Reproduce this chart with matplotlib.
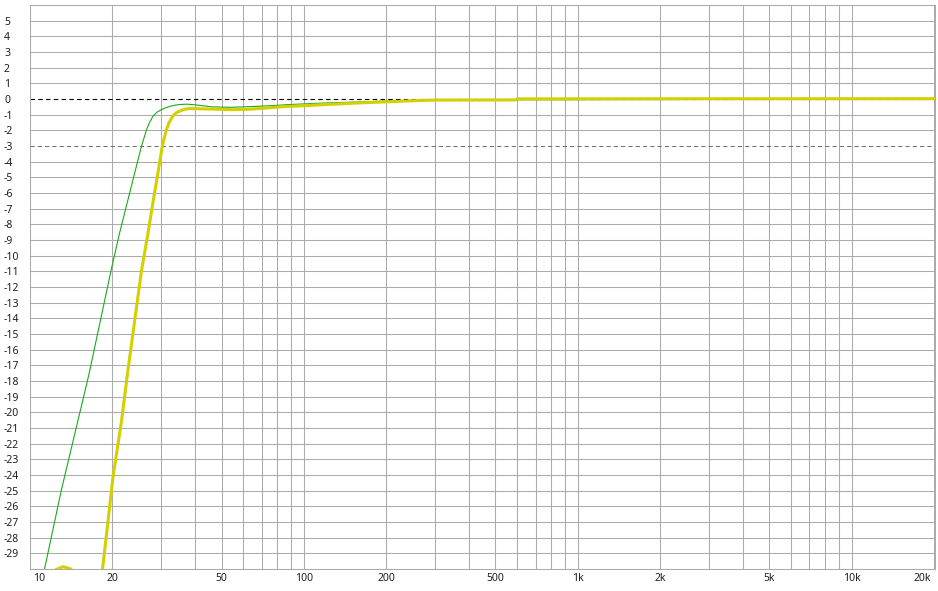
import matplotlib
matplotlib.use("Agg")
import matplotlib.pyplot as plt
import matplotlib.transforms as mtransforms

# green trace (thin)
green_freq = [10, 11.3, 13.0, 16.4, 19.7, 21.2, 22.8, 24.2, 25.5, 26.6, 27.3, 28.1, 29.1,
              30.2, 31.3, 32.4, 33.7, 35.2, 37.5, 40.5, 46, 53.6, 65, 77, 87, 107, 121,
              150, 200, 300, 20000]
green_db = [-34.2, -30, -25, -17.6, -11.06, -8.6, -6.4, -4.6, -3.04, -1.98, -1.5, -1.1, -0.84,
            -0.68, -0.56, -0.47, -0.40, -0.35, -0.33, -0.38, -0.5, -0.53, -0.48, -0.42, -0.36,
            -0.29, -0.25, -0.2, -0.13, -0.06, 0.0]

# yellow trace (thick)
yellow_freq = [11.0, 11.6, 12.4, 13.2, 14.1, 14.8, 15.5, 17.0, 18.0, 18.4, 20.1, 21.6,
               22.7, 25.5, 27.0, 28.1, 29.0, 29.7, 30.4, 31.0, 31.5, 32.1, 32.8, 33.5, 34.2,
               35.2, 36.2, 37.2, 38.3, 45, 55, 62, 70, 77, 86, 100, 115, 135, 160, 200, 250,
               300, 590, 600, 20000]
yellow_db = [-33, -31.5, -30.05, -29.85, -30.0, -31, -34, -36, -31.5, -30, -24.1, -20.5,
             -17.5, -11.0, -8.5, -6.6, -5.2, -4.1, -3.0, -2.4, -1.95, -1.55, -1.25, -1.02, -0.88,
             -0.77, -0.69, -0.64, -0.61, -0.64, -0.68, -0.66, -0.6, -0.54, -0.48, -0.43, -0.37,
             -0.31, -0.25, -0.18, -0.11, -0.07, -0.06, 0.01, 0.02]

x_ticks = [10, 20, 50, 100, 200, 500, 1000, 2000, 5000, 10000, 20000]
x_labels = ["10", "20", "50", "100", "200", "500", "1k", "2k", "5k", "10k", "20k"]
y_ticks = list(range(-29, 6))

grid_col = "#ababab"
text_col = "#1e1e1e"

W, H = 938, 591
fig = plt.figure(figsize=(W / 100, H / 100), dpi=100)
ax = fig.add_axes([30 / W, 1 - 569 / H, 905 / W, 564 / H])

ax.set_xscale("log")
ax.set_xlim(10, 20100)
ax.set_ylim(-30, 6)

# grid
minor = [m * 10 ** e for e in range(1, 5) for m in range(1, 10) if m * 10 ** e <= 20000]
for f in minor:
    ax.axvline(f, color=grid_col, lw=0.75, zorder=1)
for v in range(-30, 7):
    if v in (0, -3):
        continue
    ax.axhline(v, color=grid_col, lw=0.75, zorder=1)
ax.axhline(-3, color="#707070", lw=0.75, ls=(0, (4, 3)), zorder=1)
ax.axhline(0, color="black", lw=0.8, ls=(0, (4, 3)), zorder=1)

ax.plot(green_freq, green_db, color="#1aaa1a", lw=0.8, zorder=3)
ax.plot(yellow_freq, yellow_db, color="#d4d000", lw=2.2, zorder=4)

for s in ax.spines.values():
    s.set_color(grid_col)
    s.set_linewidth(0.75)

ax.minorticks_off()
ax.set_xticks(x_ticks)
ax.set_xticklabels(x_labels)
ax.set_yticks(y_ticks)
ax.set_yticklabels([str(v) for v in y_ticks])
ax.tick_params(axis="both", length=0, labelsize=7.5, labelcolor=text_col)
ax.tick_params(axis="x", pad=3)
ax.tick_params(axis="y", pad=18.7)
for lab in ax.get_yticklabels():
    lab.set_ha("left")
    lab.set_fontfamily("Noto Sans")
for lab in ax.get_xticklabels():
    lab.set_fontfamily("Noto Sans")
xl = ax.get_xticklabels()
xl[0].set_ha("left")
xl[0].set_transform(xl[0].get_transform() + mtransforms.ScaledTranslation(3 / 100, 0, fig.dpi_scale_trans))
xl[-1].set_ha("right")
xl[-1].set_transform(xl[-1].get_transform() + mtransforms.ScaledTranslation(-3 / 100, 0, fig.dpi_scale_trans))

fig.savefig("out.png", dpi=100, facecolor="white")
